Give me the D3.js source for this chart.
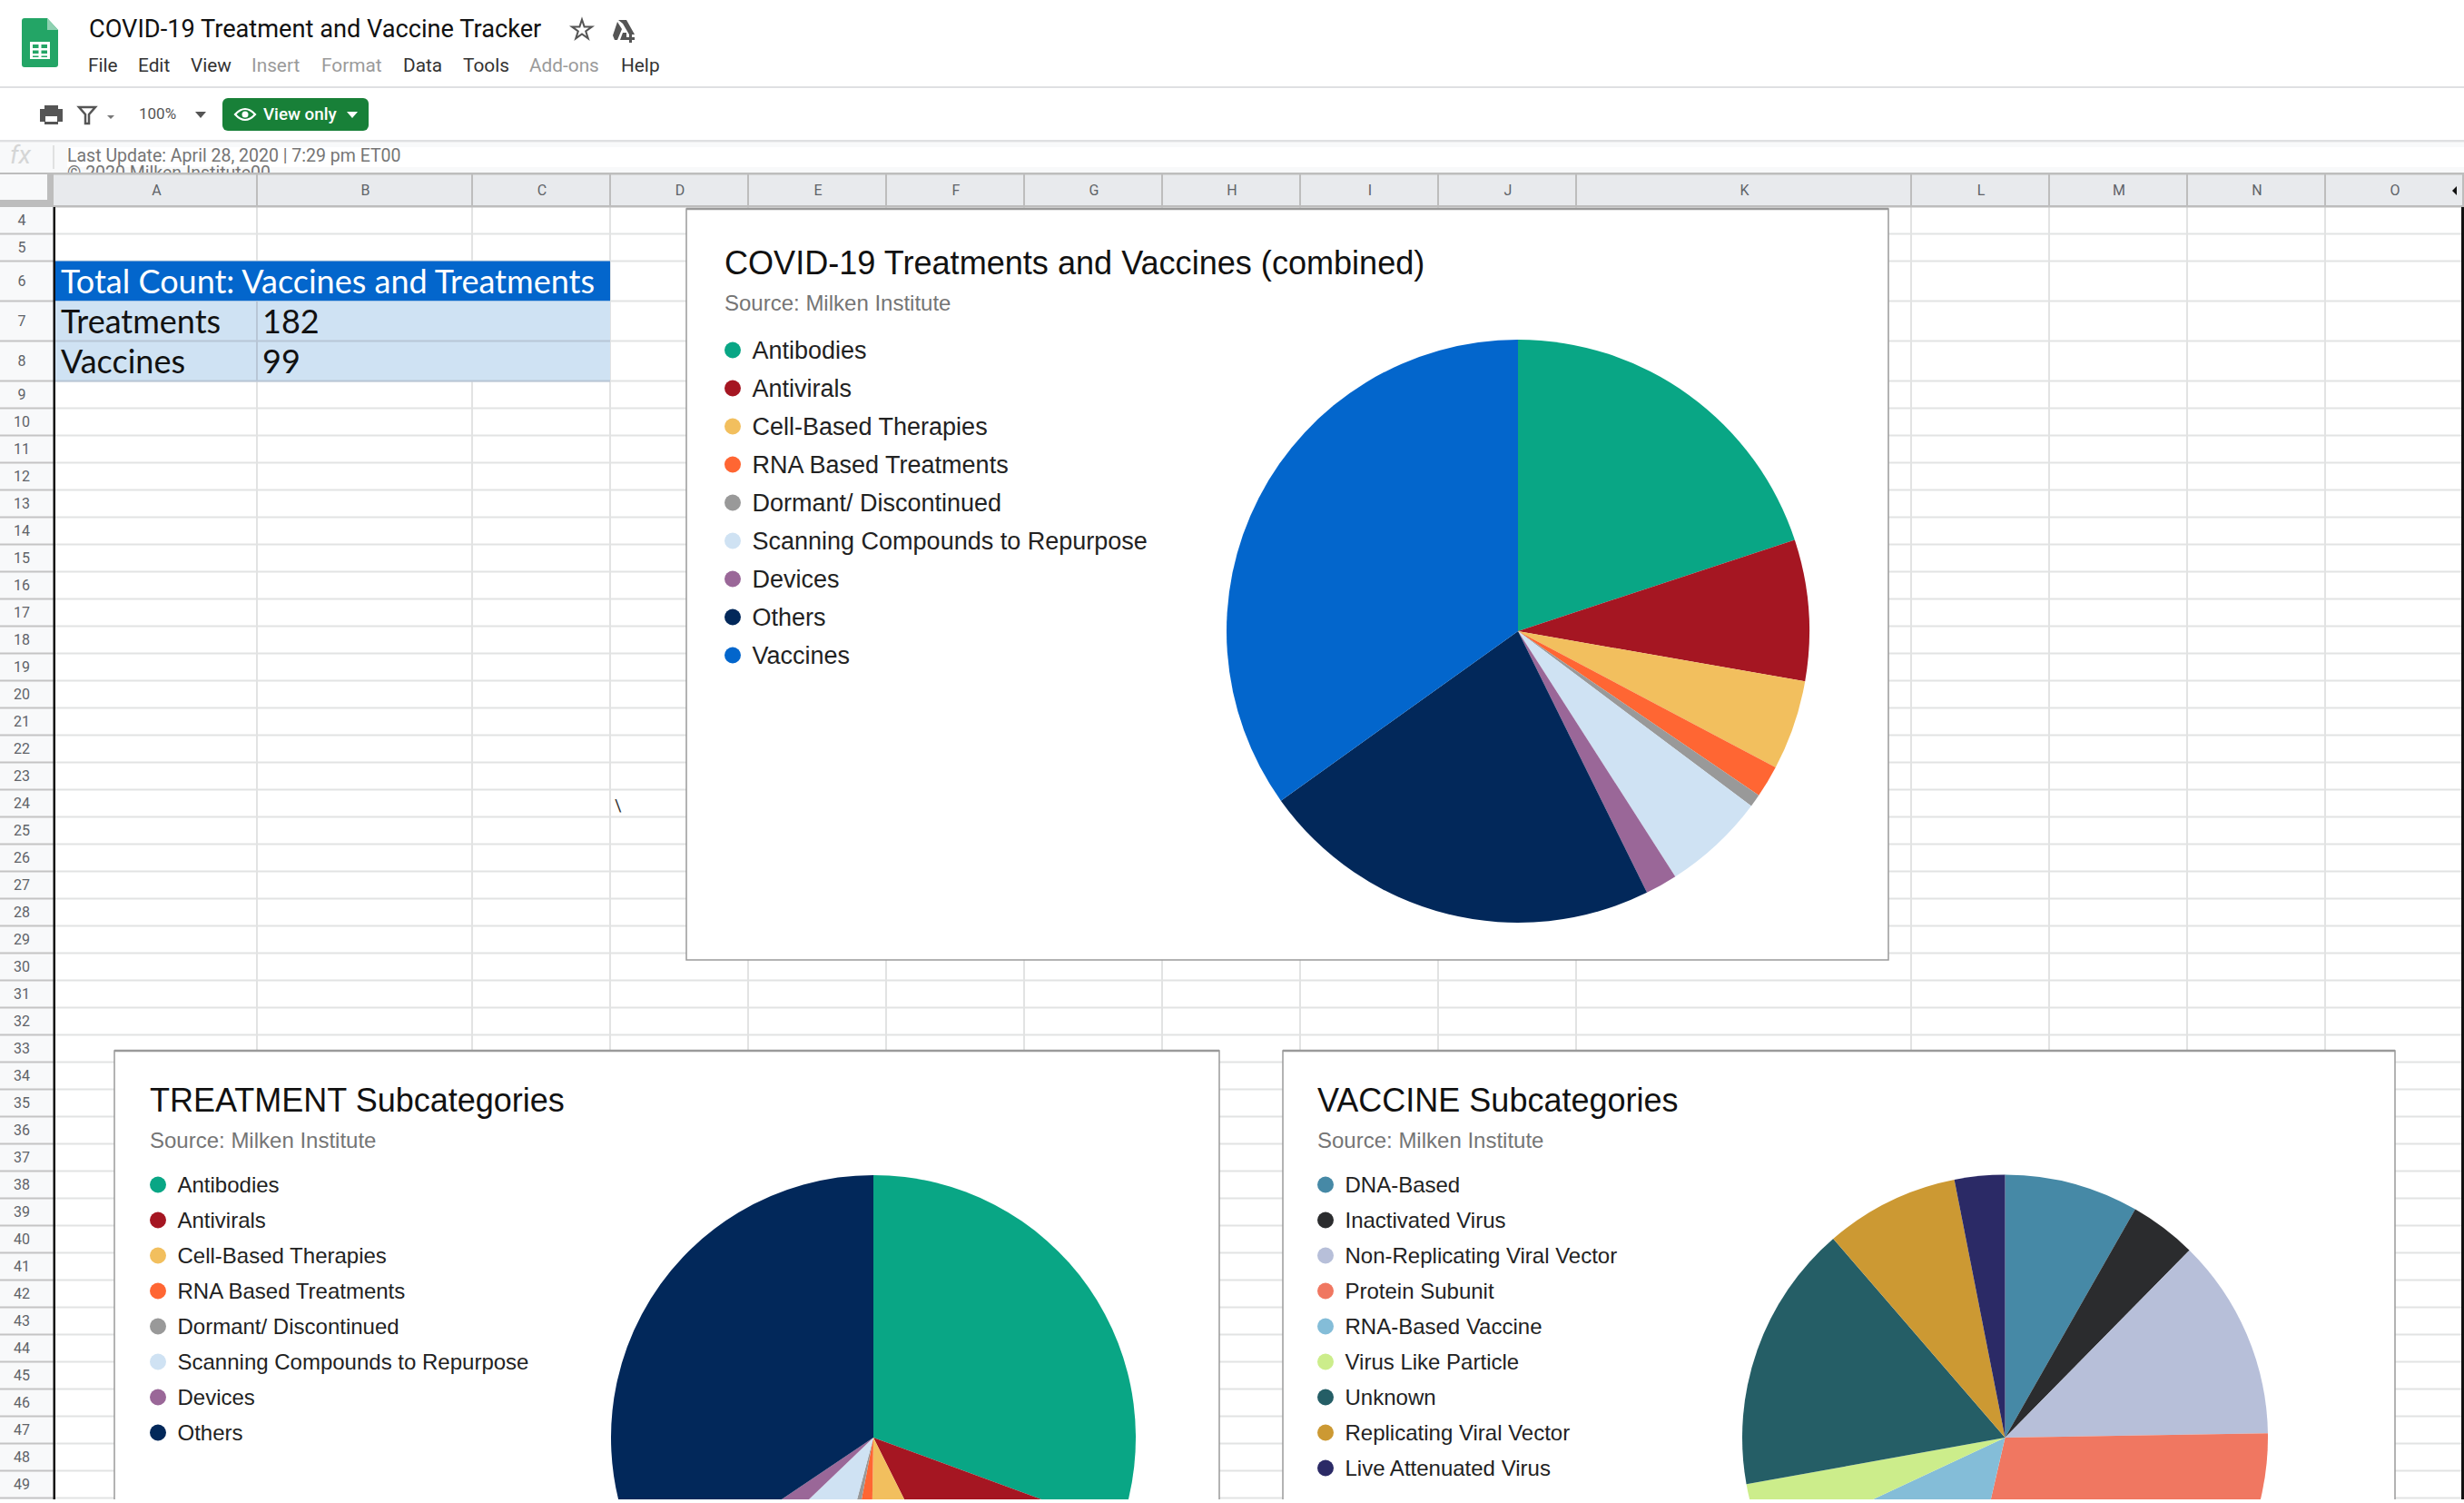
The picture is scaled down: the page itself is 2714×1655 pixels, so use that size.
<!DOCTYPE html>
<html>
<head>
<meta charset="utf-8">
<title>COVID-19 Treatment and Vaccine Tracker</title>
<script src="https://cdn.jsdelivr.net/npm/d3@7"></script>
<style>
  html, body { margin: 0; padding: 0; background: #fff; overflow: hidden; }
  svg { display: block; }
  text { font-family: Roboto, Arial, sans-serif; }
  .chartText { font-family: "Liberation Sans", Arial, sans-serif; }
  .cellText { font-family: Lato, Calibri, sans-serif; }
</style>
</head>
<body>
<svg id="sheet" width="2714" height="1655"></svg>
<script>
// combined chart
var combinedLabels = ["Antibodies", "Antivirals", "Cell-Based Therapies", "RNA Based Treatments", "Dormant/ Discontinued", "Scanning Compounds to Repurpose", "Devices", "Others", "Vaccines"];
var combinedValues = [56, 22, 14, 5, 2, 16, 5, 63, 98];
var combinedColors = ["#09a685", "#a51622", "#f2bf5e", "#ff6633", "#999999", "#cfe2f3", "#9a6798", "#02285a", "#0366cc"];

// treatment chart
var treatmentLabels = combinedLabels.slice(0, 8);
var treatmentValues = combinedValues.slice(0, 8);
var treatmentColors = combinedColors.slice(0, 8);

// vaccine chart
var vaccineLabels = ["DNA-Based", "Inactivated Virus", "Non-Replicating Viral Vector", "Protein Subunit", "RNA-Based Vaccine", "Virus Like Particle", "Unknown", "Replicating Viral Vector", "Live Attenuated Virus"];
var vaccineValues = [8, 4, 12, 28, 14, 4, 16, 8, 3];
var vaccineColors = ["#4689a6", "#2b2c2e", "#b7bfd9", "#f07761", "#84bdd8", "#cced8b", "#255e66", "#cc9933", "#2b2a66"];

var menuItems = ["File", "Edit", "View", "Insert", "Format", "Data", "Tools", "Add-ons", "Help"];
var menuDisabled = ["Insert", "Format", "Add-ons"];
var menuX = [97, 152, 210, 277, 354, 444, 510, 583, 684];

var colNames = ["A", "B", "C", "D", "E", "F", "G", "H", "I", "J", "K", "L", "M", "N", "O"];
var colEdges = [60, 283, 520, 672, 824, 976, 1128, 1280, 1432, 1584, 1736, 2105, 2257, 2409, 2561, 2713];
var firstRow = 4, lastRow = 49;
var tallRows = [6, 7, 8];

var svg = d3.select("#sheet");

svg.append("defs").append("clipPath").attr("id", "page")
  .append("rect").attr("width", 2714).attr("height", 1651);

var page = svg.append("g").attr("clip-path", "url(#page)");

// row tops, rows 6-8 are taller and row 4 is cut by the header
var rowTop = {};
var y = 228;
d3.range(firstRow, lastRow + 2).forEach(function(r){
  rowTop[r] = y;
  if (r == 4) y += 29.5;
  else if (r == 5) y += 30;
  else if (tallRows.indexOf(r) >= 0) y += 44;
  else y += 30;
});

drawGrid();
drawTable();
drawChrome();

drawChart({
  box: [756, 230, 2080, 1057],
  title: "COVID-19 Treatments and Vaccines (combined)",
  titleX: 798, titleY: 302, sourceY: 342,
  fontTitle: 36.1, fontSource: 24, fontLegend: 27,
  legendY: 385.5, legendStep: 42, dotR: 9,
  cx: 1672, cy: 695, r: 321,
  labels: combinedLabels, values: combinedValues, colors: combinedColors
});

drawChart({
  box: [126, 1157, 1343, 1700],
  title: "TREATMENT Subcategories",
  titleX: 165, titleY: 1224, sourceY: 1263.5,
  fontTitle: 36, fontSource: 24, fontLegend: 24,
  legendY: 1304.5, legendStep: 39, dotR: 9,
  cx: 962, cy: 1583, r: 289,
  labels: treatmentLabels, values: treatmentValues, colors: treatmentColors
});

drawChart({
  box: [1413, 1157, 2638, 1700],
  title: "VACCINE Subcategories",
  titleX: 1451, titleY: 1224, sourceY: 1263.5,
  fontTitle: 36, fontSource: 24, fontLegend: 24,
  legendY: 1304.5, legendStep: 39, dotR: 9,
  cx: 2208.5, cy: 1583, r: 289.5,
  labels: vaccineLabels, values: vaccineValues, colors: vaccineColors
});

function drawChart(c){
  var g = page.append("g");
  var b = c.box;

  g.append("rect").attr("x", b[0]).attr("y", b[1]).attr("width", b[2] - b[0]).attr("height", b[3] - b[1])
    .attr("fill", "#fff").attr("stroke", "#9a9a9a").attr("stroke-width", 1.5);
  g.append("line").attr("x1", b[0]).attr("x2", b[2]).attr("y1", b[1]).attr("y2", b[1])
    .attr("stroke", "#9a9a9a").attr("stroke-width", 2.5);

  g.append("text").attr("class", "chartText").attr("x", c.titleX).attr("y", c.titleY).attr("font-size", c.fontTitle).attr("fill", "#111").text(c.title);
  g.append("text").attr("class", "chartText").attr("x", c.titleX).attr("y", c.sourceY).attr("font-size", c.fontSource).attr("fill", "#757575").text("Source: Milken Institute");

  var legend = g.selectAll(".legend").data(c.labels).enter().append("g")
    .attr("class", "legend")
    .attr("transform", function(d, i){ return "translate(" + (c.titleX + 9) + "," + (c.legendY + i * c.legendStep) + ")"; });
  legend.append("circle").attr("r", c.dotR).attr("fill", function(d, i){ return c.colors[i]; });
  legend.append("text").attr("class", "chartText").attr("x", c.dotR + 12.5).attr("dy", "0.35em").attr("font-size", c.fontLegend).attr("fill", "#222").text(function(d){ return d; });

  var pie = d3.pie().sort(null);
  var arc = d3.arc().innerRadius(0).outerRadius(c.r);
  g.append("g").attr("transform", "translate(" + c.cx + "," + c.cy + ")")
    .selectAll("path").data(pie(c.values)).enter().append("path")
    .attr("d", arc)
    .attr("fill", function(d, i){ return c.colors[i]; });
}

function drawGrid(){
  var grid = page.append("g").attr("stroke", "#e2e3e3").attr("stroke-width", 2);
  colEdges.slice(1, -1).forEach(function(x){
    grid.append("line").attr("x1", x).attr("x2", x).attr("y1", 228).attr("y2", 1651);
  });
  d3.range(firstRow + 1, lastRow + 2).forEach(function(r){
    grid.append("line").attr("x1", 60).attr("x2", 2714).attr("y1", rowTop[r]).attr("y2", rowTop[r]);
  });

  // "\" sitting in row 24
  page.append("text").attr("x", 677).attr("y", 893).attr("font-size", 18).attr("fill", "#333").text("\\");
}

function drawTable(){
  var x0 = 61, x1 = 672;
  page.append("rect").attr("x", x0).attr("y", rowTop[6]).attr("width", x1 - x0).attr("height", 44).attr("fill", "#0366cc");
  page.append("rect").attr("x", x0).attr("y", rowTop[7]).attr("width", x1 - x0).attr("height", 88).attr("fill", "#cfe2f3");

  var lines = page.append("g").attr("stroke", "#b8c6d6").attr("stroke-width", 2);
  lines.append("line").attr("x1", x0).attr("x2", x1).attr("y1", rowTop[8]).attr("y2", rowTop[8]);
  lines.append("line").attr("x1", x0).attr("x2", x1).attr("y1", rowTop[9]).attr("y2", rowTop[9]);
  lines.append("line").attr("x1", 283).attr("x2", 283).attr("y1", rowTop[7]).attr("y2", rowTop[9]);

  page.append("text").attr("class", "cellText").attr("x", 67).attr("y", rowTop[6] + 35).attr("font-size", 36).attr("fill", "#fff").text("Total Count: Vaccines and Treatments");
  var cells = [["Treatments", "182", 7], ["Vaccines", "99", 8]];
  cells.forEach(function(c){
    page.append("text").attr("class", "cellText").attr("x", 67).attr("y", rowTop[c[2]] + 35).attr("font-size", 36).attr("fill", "#111").text(c[0]);
    page.append("text").attr("class", "cellText").attr("x", 289).attr("y", rowTop[c[2]] + 35).attr("font-size", 36).attr("fill", "#111").text(c[1]);
  });
}

function drawChrome(){
  // menu and toolbar
  page.append("rect").attr("width", 2714).attr("height", 191).attr("fill", "#fff");

  var icon = page.append("g");
  icon.append("path").attr("d", "M27 20 H52 L64 33 V71 Q64 74 61 74 H27 Q24 74 24 71 V23 Q24 20 27 20 Z").attr("fill", "#23a566");
  icon.append("path").attr("d", "M52 20 L64 33 H52 Z").attr("fill", "#8ed1b1");
  icon.append("path").attr("d", "M33 46 H55 V65 H33 Z M36 49 V53 H42.5 V49 Z M45.5 49 V53 H52 V49 Z M36 55.5 V59 H42.5 V55.5 Z M45.5 55.5 V59 H52 V55.5 Z M36 61.5 V63 H42.5 V61.5 Z M45.5 61.5 V63 H52 V61.5 Z").attr("fill", "#fff").attr("fill-rule", "evenodd");

  page.append("text").attr("x", 98).attr("y", 41).attr("font-size", 27.2).attr("fill", "#111").text("COVID-19 Treatment and Vaccine Tracker");

  // star and drive icons
  var star = d3.symbol().type(d3.symbolStar).size(150)();
  page.append("path").attr("d", star).attr("transform", "translate(641,33)").attr("fill", "none").attr("stroke", "#555").attr("stroke-width", 2);
  page.append("path").attr("d", "M681 22 H690 L699 38 H693 L686 26 Z M680 24 L685 32 L680 44 H677 L675 39 Z M686 36 H690 V44 H683 Z").attr("fill", "#555");
  page.append("path").attr("d", "M693 38 H696 V41 H699 V44 H696 V47 H693 V44 H690 V41 H693 Z").attr("fill", "#555");

  page.selectAll(".menu").data(menuItems).enter().append("text")
    .attr("class", "menu")
    .attr("x", function(d, i){ return menuX[i]; })
    .attr("y", 79).attr("font-size", 20.8)
    .attr("fill", function(d){ return menuDisabled.indexOf(d) >= 0 ? "#9a9a9a" : "#333"; })
    .text(function(d){ return d; });

  page.append("rect").attr("y", 95).attr("width", 2714).attr("height", 2).attr("fill", "#dfe0e2");

  page.append("path").attr("d", "M49 116 H64 V120 H69 V134 H64 V137 H49 V134 H44 V120 H49 Z M50 128 V134 H63 V128 Z").attr("fill", "#555").attr("fill-rule", "evenodd");
  page.append("path").attr("d", "M87 118 H105 L98 126 V136 H94 V126 Z").attr("fill", "none").attr("stroke", "#555").attr("stroke-width", 2.5);
  page.append("path").attr("d", "M118 127 H126 L122 131 Z").attr("fill", "#777");
  page.append("text").attr("x", 153).attr("y", 131).attr("font-size", 17).attr("fill", "#555").text("100%");
  page.append("path").attr("d", "M215 123 H227 L221 130 Z").attr("fill", "#555");

  page.append("rect").attr("x", 245).attr("y", 108).attr("width", 161).attr("height", 36).attr("rx", 6).attr("fill", "#188038");
  page.append("path").attr("d", "M259 126 Q270 114 281 126 Q270 138 259 126 Z").attr("fill", "none").attr("stroke", "#fff").attr("stroke-width", 2.2);
  page.append("circle").attr("cx", 270).attr("cy", 126).attr("r", 3.5).attr("fill", "#fff");
  page.append("text").attr("x", 290).attr("y", 132).attr("font-size", 18.8).attr("font-weight", 500).attr("fill", "#fff").text("View only");
  page.append("path").attr("d", "M382 123 H394 L388 130 Z").attr("fill", "#fff");

  // formula bar
  page.append("rect").attr("y", 154).attr("width", 2714).attr("height", 2.5).attr("fill", "#dfe0e2");
  page.append("rect").attr("y", 157).attr("width", 2714).attr("height", 34).attr("fill", "#f8f9fa");
  page.append("text").attr("x", 11).attr("y", 180).attr("font-size", 28).attr("font-family", "'Liberation Serif', serif").attr("font-style", "italic").attr("fill", "#d5d6d6").text("fx");
  page.append("line").attr("x1", 59).attr("x2", 59).attr("y1", 160).attr("y2", 186).attr("stroke", "#d8d8d8").attr("stroke-width", 1.5);
  page.append("rect").attr("x", 74).attr("y", 162).attr("width", 2640).attr("height", 22).attr("fill", "#fff");
  page.append("text").attr("x", 74).attr("y", 178).attr("font-size", 19.5).attr("fill", "#757575").text("Last Update: April 28, 2020 | 7:29 pm ET00");
  page.append("text").attr("x", 74).attr("y", 197).attr("font-size", 19.5).attr("fill", "#757575").text("\u00a9 2020 Milken Institute00");

  // column headers
  page.append("rect").attr("y", 191).attr("width", 2714).attr("height", 37).attr("fill", "#e8eaed");
  page.append("rect").attr("y", 190).attr("width", 2714).attr("height", 2.5).attr("fill", "#bdbdbd");
  page.append("rect").attr("y", 226).attr("width", 2714).attr("height", 2.5).attr("fill", "#bdbdbd");
  page.append("rect").attr("y", 192).attr("width", 59).attr("height", 35).attr("fill", "#bdbdbd");
  page.append("rect").attr("y", 192).attr("width", 52).attr("height", 28).attr("fill", "#f8f9fa");

  var colX = d3.scaleOrdinal().domain(colNames).range(colEdges.slice(0, -1));
  var colW = function(i){ return colEdges[i + 1] - colEdges[i]; };
  page.selectAll(".colName").data(colNames).enter().append("text")
    .attr("class", "colName")
    .attr("x", function(d, i){ return colX(d) + colW(i) / 2 + 1; })
    .attr("y", 215).attr("font-size", 16).attr("text-anchor", "middle").attr("fill", "#5f6368")
    .text(function(d){ return d; });
  page.selectAll(".colTick").data(colEdges.slice(1)).enter().append("line")
    .attr("class", "colTick")
    .attr("x1", function(d){ return d; }).attr("x2", function(d){ return d; })
    .attr("y1", 191).attr("y2", 227).attr("stroke", "#bdbdbd").attr("stroke-width", 2);
  page.append("path").attr("d", "M2706 205 L2701 210 L2706 215 Z").attr("fill", "#111");

  // row headers
  var rows = d3.range(firstRow, lastRow + 1);
  page.append("rect").attr("y", 228).attr("width", 59).attr("height", 1425).attr("fill", "#f8f9fa");
  page.selectAll(".rowLine").data(rows).enter().append("rect")
    .attr("class", "rowLine").attr("y", function(d){ return rowTop[d + 1] - 1; })
    .attr("width", 59).attr("height", 2).attr("fill", "#c4c4c4");
  page.selectAll(".rowName").data(rows).enter().append("text")
    .attr("class", "rowName")
    .attr("x", 24).attr("y", function(d){ return (rowTop[d] + rowTop[d + 1]) / 2 + 5.5; })
    .attr("font-size", 16).attr("text-anchor", "middle").attr("fill", "#5f6368")
    .text(function(d){ return d; });

  // freeze bar and right edge
  page.append("rect").attr("x", 58.5).attr("y", 228).attr("width", 2.5).attr("height", 1425).attr("fill", "#111");
  page.append("rect").attr("x", 2711).attr("y", 228).attr("width", 3).attr("height", 1425).attr("fill", "#111");
}
</script>
</body>
</html>
